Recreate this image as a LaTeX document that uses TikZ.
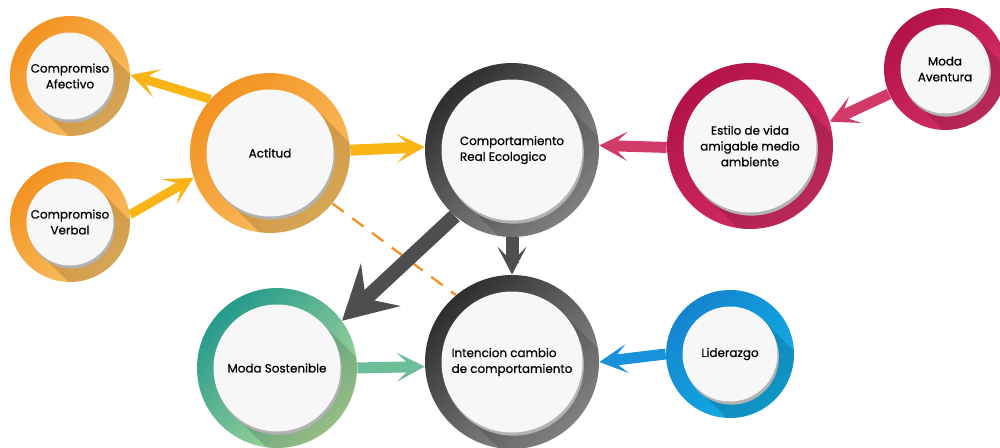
\documentclass[tikz,border=0pt]{standalone}
\usepackage{fontspec}
\setmainfont{Poppins}
\newfontfamily\burfont{Poppins}[FakeBold=0.6]
\usetikzlibrary{arrows.meta,calc}
\definecolor{naranjaA}{HTML}{F39222}
\definecolor{naranjaB}{HTML}{F9C266}
\definecolor{grisA}{HTML}{2E2E2E}
\definecolor{grisB}{HTML}{959595}
\definecolor{rojoA}{HTML}{B3124A}
\definecolor{rojoB}{HTML}{D8306A}
\definecolor{verdeA}{HTML}{259A8C}
\definecolor{verdeB}{HTML}{B0DC9B}
\definecolor{azulA}{HTML}{1584CF}
\definecolor{azulB}{HTML}{12B0E6}
\definecolor{disco}{HTML}{F7F7F7}
\definecolor{flNaranja}{HTML}{FBB416}
\definecolor{flGris}{HTML}{4E4E4E}
\definecolor{flRojo}{HTML}{D23A6A}
\definecolor{flVerde}{HTML}{6DBE98}
\definecolor{flAzul}{HTML}{1992DB}
\newcommand{\ringw}{0.33cm}
\tikzset{
  burbuja/.style 2 args={
    circle,
    minimum size=2*#1,
    inner sep=0pt,
    left color=#2A,
    right color=#2B,
    shading angle=45,
    align=center,
    font=\burfont\fontsize{6.8}{9}\selectfont,
    path picture={
      \pgfmathsetlengthmacro\rin{#1-\ringw}
      \coordinate (c) at (path picture bounding box.center);
      \fill[black,fill opacity=.14] ($(c)+(45:\rin)$) -- ($(c)+(45:\rin)+(-45:4cm)$)
        -- ($(c)+(225:\rin)+(-45:4cm)$) -- ($(c)+(225:\rin)$) -- cycle;
      \fill[black!30] ($(c)+(.8pt,-1.8pt)$) circle[radius=\rin];
      \fill[disco] (c) circle[radius=\rin];
    }
  },
  flecha/.style={
    line width=0.22cm,
    -{Stealth[length=0.56cm,width=0.58cm,inset=0.3cm]}
  },
  flechaGrande/.style={
    line width=0.29cm,
    -{Stealth[length=1.05cm,width=1.15cm,inset=0.4cm]}
  },
  guia/.style={draw=naranjaA, line width=1.3pt, dash pattern=on 8pt off 6pt}
}
\begin{document}
\begin{tikzpicture}[x=0.02cm,y=-0.02cm]
  \useasboundingbox (0,0) rectangle (1000,448);
  % burbujas
  \node[burbuja={1.2cm}{naranja}] (afe) at (70,76) {Compromiso\\Afectivo};
  \node[burbuja={1.2cm}{naranja}] (ver) at (70,222) {Compromiso\\Verbal};
  \node[burbuja={1.6cm}{naranja}] (act) at (270,153) {Actitud};
  \node[burbuja={1.74cm}{gris},align=left] (cre) at (512,150) {Comportamiento\\Real Ecologico};
  \node[burbuja={1.66cm}{rojo}] (est) at (750,146) {Estilo de vida\\amigable medio\\ambiente};
  \node[burbuja={1.22cm}{rojo}] (ave) at (945,69) {Moda\\Aventura};
  \node[burbuja={1.74cm}{gris},align=left] (int) at (512,362) {Intencion cambio\\de comportamiento};
  \node[burbuja={1.6cm}{verde}] (sos) at (277,368) {Moda Sostenible};
  \node[burbuja={1.28cm}{azul}] (lid) at (730,354) {Liderazgo};
  % flechas
  \draw[guia] (act.-39) -- (int.130);
  \draw[flecha,flNaranja,line width=0.18cm] (act.138) -- (afe.1);
  \draw[flecha,flNaranja,line width=0.18cm] (ver.7) -- (act.198);
  \draw[flecha,flNaranja] (act.2) -- (cre.178);
  \draw[flecha,flRojo] (est.181) -- (cre.3);
  \draw[flecha,flRojo] (ave.204) -- (est.17);
  \draw[flechaGrande,flGris] (cre.229) -- (sos.36);
  \draw[flecha,flGris,line width=0.26cm] (cre.south) -- (int.north);
  \draw[flecha,flVerde] (sos.east) -- (int.183);
  \draw[flecha,flAzul] (lid.west) -- (int.east);
\end{tikzpicture}
\end{document}
